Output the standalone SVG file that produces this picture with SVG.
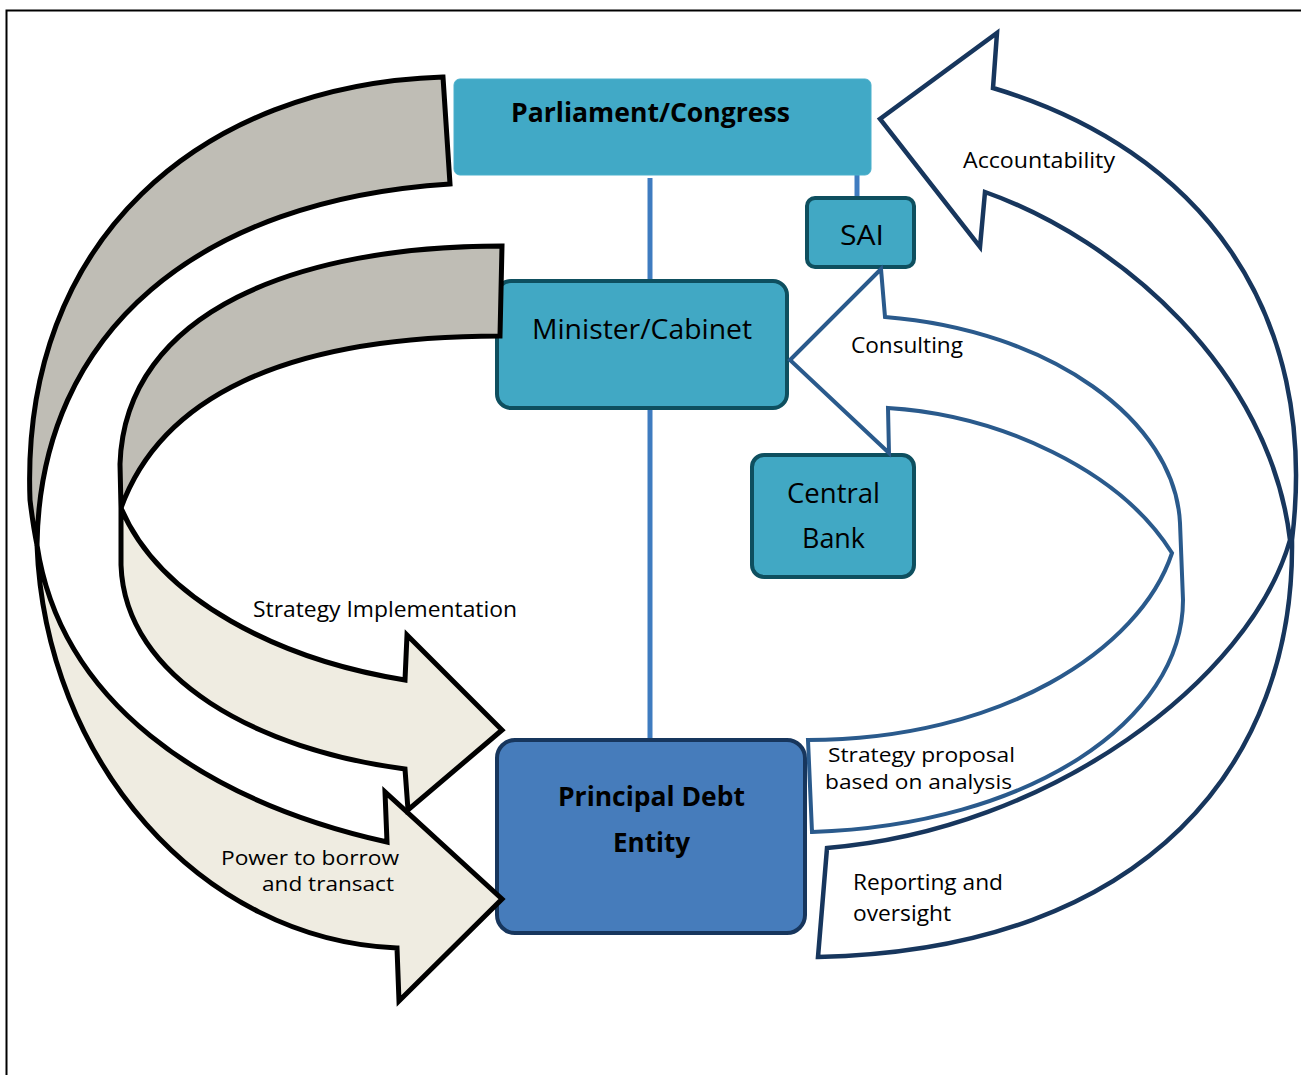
<svg xmlns="http://www.w3.org/2000/svg" width="1301" height="1075" viewBox="0 0 1301 1075">
<style>
.node-light{fill:#41A8C4;stroke:#0E4F5F;stroke-width:4}
.node-top{fill:#41A9C6;stroke:#4BB0CC;stroke-width:1}
.node-main{fill:#467CBB;stroke:#17365D;stroke-width:4}
.t{font-family:"Open Sans","Noto Sans","Liberation Sans",sans-serif;fill:#000}
.nt{font-size:28px}
.bt{font-size:26.5px;font-weight:bold}
.lb{font-size:22.5px}
.lb2{font-size:20.5px}
.lb3{font-size:19.5px}
.link{stroke:#3F7CC0;stroke-width:5;fill:none}
.back{fill:#BFBDB5;stroke:#000;stroke-width:5;stroke-linejoin:miter}
.front{fill:#EFECE1;stroke:#000;stroke-width:5;stroke-linejoin:miter}
.acc{fill:#FFFFFF;stroke:#17365D;stroke-width:4.5;stroke-linejoin:miter}
.prop{fill:#FFFFFF;stroke:#2A5A8C;stroke-width:4;stroke-linejoin:miter}
</style>
<rect x="0" y="0" width="1301" height="1075" fill="#FFFFFF"/>
<rect x="6.5" y="10.5" width="1300" height="1070" fill="none" stroke="#000" stroke-width="2"/>

<g id="connectors">
  <line class="link" x1="650" y1="178" x2="650" y2="282"/>
  <line class="link" x1="857" y1="174" x2="857" y2="199"/>
  <line class="link" x1="650" y1="407" x2="650" y2="741"/>
</g>

<g id="node-parliament">
  <rect class="node-top" x="454" y="79" width="417" height="96" rx="6"/>
  <text class="t bt" x="511" y="122" textLength="279" lengthAdjust="spacingAndGlyphs">Parliament/Congress</text>
</g>
<g id="node-minister">
  <rect class="node-light" x="497" y="281" width="290" height="127" rx="14"/>
  <text class="t nt" x="532" y="339" textLength="220" lengthAdjust="spacingAndGlyphs">Minister/Cabinet</text>
</g>
<g id="node-sai">
  <rect class="node-light" x="807" y="198" width="107" height="69" rx="8"/>
  <text class="t nt" x="840" y="245" textLength="44" lengthAdjust="spacingAndGlyphs">SAI</text>
</g>
<g id="node-centralbank">
  <rect class="node-light" x="752" y="455" width="162" height="122" rx="12"/>
  <text class="t nt" x="787" y="503" textLength="93" lengthAdjust="spacingAndGlyphs">Central</text>
  <text class="t nt" x="802" y="548" textLength="63" lengthAdjust="spacingAndGlyphs">Bank</text>
</g>
<g id="node-pde">
  <rect class="node-main" x="497" y="740" width="308" height="193" rx="18"/>
  <text class="t bt" x="558" y="806" textLength="187" lengthAdjust="spacingAndGlyphs">Principal Debt</text>
  <text class="t bt" x="613" y="852" textLength="77" lengthAdjust="spacingAndGlyphs">Entity</text>
</g>

<g id="flows">
  <!-- Power to borrow and transact -->
  <path class="back" d="M443,77 C200,85 20,240 30,500 Q33,525 37,545 C40,330 200,200 450,184 Z"/>
  <path class="front" d="M37,545 C45,760 200,940 397,948 L399,1001 L502,899 L385,792 L387,842 C200,800 60,700 37,545 Z"/>
  <!-- Strategy Implementation -->
  <path class="back" d="M502,246 C300,246 125,310 120,464 L121,508 C160,400 280,336 500,336 Z"/>
  <path class="front" d="M121,508 L121,565 C125,680 260,750 405,769 L408,810 L502,730 L407,635 L405,680 C280,660 160,600 121,508 Z"/>
  <!-- Accountability / Reporting and oversight -->
  <path class="acc" d="M818,957 C1150,950 1295,760 1292,540 C1320,310 1200,150 993,88 L997,33 L880,119 L980,247 L985,192 C1120,240 1270,370 1290,540 C1250,680 1050,830 827,848 Z"/>
  <!-- Strategy proposal / Consulting -->
  <path class="prop" d="M812,832 C1030,825 1183,720 1183,600 L1180,523 C1175,420 1050,330 885,317 L881,269 L790,360 L889,453 L888,408 C1000,415 1120,470 1172,553 C1140,650 1000,740 808,740 Z"/>

  <text class="t lb" x="253" y="617" textLength="264" lengthAdjust="spacingAndGlyphs">Strategy Implementation</text>
  <text class="t lb3" x="221" y="865" textLength="178" lengthAdjust="spacingAndGlyphs">Power to borrow</text>
  <text class="t lb3" x="262" y="891" textLength="132" lengthAdjust="spacingAndGlyphs">and transact</text>
  <text class="t lb" x="963" y="168" textLength="152" lengthAdjust="spacingAndGlyphs">Accountability</text>
  <text class="t lb" x="851" y="353" textLength="112" lengthAdjust="spacingAndGlyphs">Consulting</text>
  <text class="t lb2" x="828" y="762" textLength="187" lengthAdjust="spacingAndGlyphs">Strategy proposal</text>
  <text class="t lb2" x="825" y="789" textLength="187" lengthAdjust="spacingAndGlyphs">based on analysis</text>
  <text class="t lb" x="853" y="890" textLength="150" lengthAdjust="spacingAndGlyphs">Reporting and</text>
  <text class="t lb" x="853" y="921" textLength="98" lengthAdjust="spacingAndGlyphs">oversight</text>
</g>
</svg>
